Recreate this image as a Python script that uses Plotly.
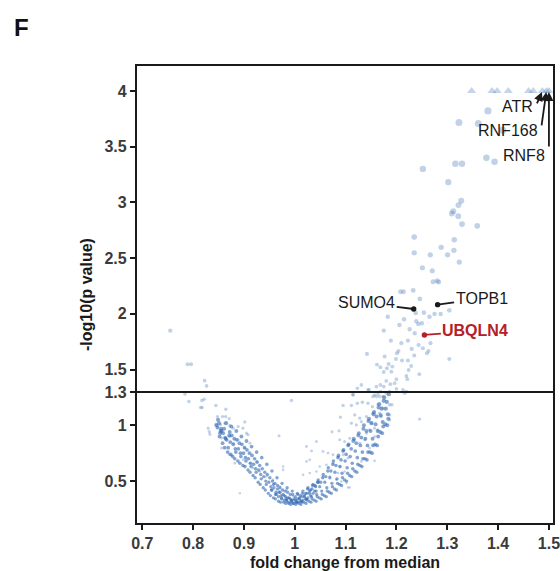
import plotly.graph_objects as go

# sparse / well separated proteins (fold change, -log10 p)
fc_pts = [1.380, 1.323, 1.361, 1.409, 1.377, 1.393, 1.316, 1.329, 1.252, 1.302,
          1.3275, 1.322, 1.312, 1.309, 1.3216, 1.329, 1.359, 1.235, 1.3137, 1.288,
          1.313, 1.235, 1.2666, 1.3006, 1.3236, 1.251, 1.2705, 1.272, 1.280, 1.283,
          1.208, 1.214, 1.233, 1.246, 1.238, 1.254, 1.265, 1.275, 1.287, 1.304,
          1.183, 1.215, 1.239, 1.250, 1.243, 1.206, 1.226, 1.175, 1.236, 1.189,
          1.2226, 1.2097, 1.2436, 1.267, 1.230, 1.252, 1.204, 1.201, 1.260, 1.263,
          1.142, 1.1768, 1.235, 1.199, 1.211, 1.2226, 1.304, 1.1617, 1.1684, 1.1847,
          1.192, 1.1813, 1.229, 1.224, 1.175, 1.19, 1.2195, 1.245, 1.2214, 1.200,
          1.180, 1.188, 1.175, 1.1684, 1.1605, 1.131, 1.1232, 1.1145, 1.144, 1.1965,
          1.2128, 1.2195, 1.200, 1.169, 1.1637, 1.1735, 1.1538, 1.146, 1.157,
          0.755, 0.789, 0.796, 0.8226, 0.8265, 0.7839, 0.7917, 0.8173, 0.8218, 0.8147,
          0.8179, 0.8448, 0.8644, 0.9935, 0.848, 0.858, 0.864, 0.871, 0.9018, 0.8297,
          0.8316, 0.833, 0.845, 0.854, 0.8625, 0.872, 0.879, 0.8886, 0.898, 0.905,
          0.908, 0.969, 0.856, 0.872, 0.879, 0.8886, 0.902, 0.9116, 0.856, 0.892,
          1.023, 1.023, 0.977, 0.977,
          1.1145, 1.1605, 1.167, 1.180, 1.1866, 1.216, 1.095, 1.1114, 1.123, 1.133,
          1.144, 1.1527, 1.1637, 1.1735, 1.1866, 1.191, 1.0898, 1.118, 1.1277, 1.141,
          1.1538, 1.167, 1.170, 1.1866, 1.1866, 1.2456, 1.1114, 1.1212, 1.131, 1.1507,
          1.157, 1.1637, 1.141, 1.147, 1.0733, 1.087, 1.0426, 1.0884, 1.098, 1.108,
          1.118, 1.1277, 1.1375, 1.147, 1.157, 1.033, 1.0295, 1.0556, 1.0655, 1.0753,
          1.085, 1.095, 1.1047, 1.131, 1.157, 1.049, 1.0623, 1.0753, 1.0884, 1.098,
          1.085, 1.0163, 1.0295, 1.0426, 1.0556, 1.0688, 1.082, 1.0917, 1.1016, 1.1047,
          1.108, 0.871, 0.8756, 0.882, 0.8985, 0.9116, 0.918, 0.9248, 0.931, 0.9444,
          0.9574, 0.970, 0.9837, 0.9967, 1.0098, 1.023]
p_pts = [3.821, 3.717, 3.708, 3.648, 3.400, 3.364, 3.346, 3.346, 3.301, 3.182,
         3.014, 2.976, 2.922, 2.901, 2.877, 2.806, 2.790, 2.689, 2.665, 2.597,
         2.570, 2.548, 2.530, 2.530, 2.465, 2.414, 2.387, 2.289, 2.298, 2.286,
         2.199, 2.199, 2.211, 2.134, 2.008, 2.011, 1.975, 1.999, 1.999, 2.032,
         1.975, 1.952, 1.933, 1.916, 1.909, 1.900, 1.862, 1.850, 1.826, 1.760,
         1.760, 1.737, 1.721, 1.737, 1.686, 1.692, 1.667, 1.647, 1.647, 1.667,
         1.641, 1.617, 1.626, 1.596, 1.581, 1.581, 1.596, 1.545, 1.522, 1.551,
         1.527, 1.513, 1.533, 1.497, 1.479, 1.482, 1.443, 1.459, 1.414, 1.414,
         1.399, 1.369, 1.348, 1.363, 1.348, 1.363, 1.333, 1.276, 1.318, 1.378,
         1.318, 1.303, 1.327, 1.303, 1.282, 1.258, 1.258, 1.318, 1.273,
         1.850, 1.548, 1.548, 1.401, 1.354, 1.282, 1.213, 1.222, 1.235, 1.160,
         1.160, 1.178, 1.145, 1.222, 1.079, 1.079, 1.079, 1.061, 1.031, 0.975,
         0.944, 0.921, 1.011, 1.007, 1.020, 0.998, 0.975, 0.989, 0.975, 0.930,
         0.915, 0.906, 0.886, 0.900, 0.840, 0.870, 0.796, 0.840, 0.796, 0.392,
         0.810, 0.676, 0.631, 0.601,
         1.273, 1.258, 1.258, 1.289, 1.303, 1.289, 1.178, 1.178, 1.199, 1.208,
         1.199, 1.168, 1.184, 1.154, 1.184, 1.184, 1.073, 1.094, 1.064, 1.079,
         1.109, 1.109, 1.079, 1.094, 1.049, 1.056, 1.020, 1.004, 1.034, 1.020,
         0.975, 0.960, 0.930, 0.960, 0.942, 0.951, 0.855, 0.870, 0.855, 0.885,
         0.870, 0.840, 0.870, 0.796, 0.900, 0.771, 0.691, 0.765, 0.751, 0.736,
         0.720, 0.736, 0.706, 0.676, 0.682, 0.631, 0.646, 0.661, 0.631, 0.586,
         0.572, 0.557, 0.572, 0.586, 0.541, 0.541, 0.512, 0.497, 0.482, 0.443,
         0.443, 0.736, 0.730, 0.661, 0.691, 0.661, 0.617, 0.676, 0.586, 0.541,
         0.512, 0.452, 0.422, 0.362, 0.333, 0.333]

# dense V-shaped band of non-changing proteins (estimated from the cloud)
fc_band = [0.848, 0.851, 0.853, 0.855, 0.849, 0.852, 0.846, 0.854,
           0.858, 0.861, 0.863, 0.865, 0.859, 0.862, 0.856, 0.864,
           0.868, 0.871, 0.873, 0.875, 0.869, 0.872, 0.866, 0.874,
           0.878, 0.881, 0.883, 0.885, 0.879, 0.882, 0.876, 0.884,
           0.888, 0.891, 0.893, 0.895, 0.889, 0.892, 0.886, 0.894,
           0.898, 0.901, 0.903, 0.905, 0.899, 0.902, 0.896, 0.904,
           0.908, 0.911, 0.913, 0.915, 0.909, 0.912, 0.906, 0.914,
           0.918, 0.921, 0.923, 0.925, 0.919, 0.922, 0.916, 0.924,
           0.928, 0.931, 0.933, 0.935, 0.929, 0.932, 0.926, 0.934,
           0.938, 0.941, 0.943, 0.945, 0.939, 0.942, 0.936, 0.944,
           0.948, 0.951, 0.953, 0.955, 0.949, 0.952, 0.946, 0.954,
           0.958, 0.961, 0.963, 0.965, 0.959, 0.962, 0.956, 0.964,
           0.968, 0.971, 0.973, 0.975, 0.969, 0.972, 0.966, 0.974,
           0.978, 0.981, 0.983, 0.985, 0.979, 0.982, 0.976, 0.984,
           0.988, 0.991, 0.993, 0.995, 0.989, 0.992, 0.986, 0.994,
           0.998, 1.001, 1.003, 1.005, 0.999, 1.002, 0.996, 1.004,
           1.008, 1.011, 1.013, 1.015, 1.009, 1.012, 1.006, 1.014,
           1.018, 1.021, 1.023, 1.025, 1.019, 1.022, 1.016, 1.024,
           1.028, 1.031, 1.033, 1.035, 1.029, 1.032, 1.026, 1.034,
           1.038, 1.041, 1.043, 1.045, 1.039, 1.042, 1.036, 1.044,
           1.048, 1.051, 1.053, 1.055, 1.049, 1.052, 1.046, 1.054,
           1.058, 1.061, 1.063, 1.065, 1.059, 1.062, 1.056, 1.064,
           1.068, 1.071, 1.073, 1.075, 1.069, 1.072, 1.066, 1.074,
           1.078, 1.081, 1.083, 1.085, 1.079, 1.082, 1.076, 1.084,
           1.088, 1.091, 1.093, 1.095, 1.089, 1.092, 1.086, 1.094,
           1.098, 1.101, 1.103, 1.105, 1.099, 1.102, 1.096, 1.104,
           1.108, 1.111, 1.113, 1.115, 1.109, 1.112, 1.106, 1.114,
           1.118, 1.121, 1.123, 1.125, 1.119, 1.122, 1.116, 1.124,
           1.128, 1.131, 1.133, 1.135, 1.129, 1.132, 1.126, 1.134,
           1.138, 1.141, 1.143, 1.145, 1.139, 1.142, 1.136, 1.144,
           1.148, 1.151, 1.153, 1.155, 1.149, 1.152, 1.146, 1.154,
           1.158, 1.161, 1.163, 1.165, 1.159, 1.162, 1.156, 1.164,
           1.168, 1.171, 1.173, 1.175, 1.169, 1.172, 1.166, 1.174,
           1.178, 1.181, 1.183, 1.185, 1.179, 1.182, 1.176, 1.184]
p_band = [0.98, 1.02, 0.93, 0.97, 1.05, 0.90, 1.00, 0.95,
          0.84, 0.97, 0.89, 1.02, 0.93, 0.80, 0.95, 0.88,
          0.76, 0.91, 0.85, 0.99, 0.80, 0.94, 0.87, 0.74,
          0.72, 0.88, 0.79, 0.95, 0.83, 0.70, 0.91, 0.76,
          0.68, 0.84, 0.75, 0.90, 0.79, 0.66, 0.87, 0.72,
          0.64, 0.80, 0.71, 0.86, 0.75, 0.63, 0.83, 0.68,
          0.60, 0.75, 0.66, 0.81, 0.70, 0.58, 0.78, 0.63,
          0.55, 0.70, 0.61, 0.76, 0.65, 0.53, 0.73, 0.58,
          0.49, 0.64, 0.56, 0.71, 0.60, 0.47, 0.67, 0.52,
          0.44, 0.58, 0.50, 0.65, 0.54, 0.42, 0.61, 0.47,
          0.39, 0.53, 0.45, 0.59, 0.49, 0.37, 0.56, 0.42,
          0.35, 0.48, 0.40, 0.53, 0.44, 0.34, 0.50, 0.38,
          0.32, 0.44, 0.37, 0.48, 0.40, 0.31, 0.46, 0.35,
          0.31, 0.41, 0.34, 0.44, 0.37, 0.30, 0.42, 0.33,
          0.30, 0.38, 0.33, 0.41, 0.35, 0.29, 0.40, 0.32,
          0.30, 0.36, 0.32, 0.39, 0.34, 0.29, 0.38, 0.31,
          0.30, 0.37, 0.32, 0.39, 0.34, 0.29, 0.38, 0.31,
          0.31, 0.39, 0.34, 0.43, 0.36, 0.30, 0.41, 0.33,
          0.32, 0.42, 0.36, 0.46, 0.39, 0.31, 0.44, 0.34,
          0.33, 0.45, 0.38, 0.49, 0.41, 0.32, 0.47, 0.36,
          0.35, 0.49, 0.41, 0.53, 0.45, 0.34, 0.51, 0.38,
          0.37, 0.54, 0.44, 0.59, 0.49, 0.36, 0.56, 0.41,
          0.40, 0.59, 0.48, 0.65, 0.53, 0.39, 0.62, 0.45,
          0.43, 0.64, 0.52, 0.71, 0.58, 0.42, 0.68, 0.48,
          0.47, 0.69, 0.57, 0.77, 0.63, 0.46, 0.73, 0.53,
          0.51, 0.74, 0.62, 0.82, 0.68, 0.50, 0.78, 0.57,
          0.55, 0.79, 0.66, 0.86, 0.72, 0.54, 0.83, 0.61,
          0.59, 0.84, 0.71, 0.91, 0.77, 0.58, 0.88, 0.65,
          0.64, 0.89, 0.76, 0.97, 0.82, 0.63, 0.93, 0.70,
          0.70, 0.95, 0.82, 1.04, 0.88, 0.69, 1.00, 0.76,
          0.76, 1.02, 0.88, 1.10, 0.95, 0.75, 1.06, 0.82,
          0.83, 1.08, 0.95, 1.16, 1.01, 0.82, 1.12, 0.90,
          0.94, 1.15, 1.03, 1.22, 1.09, 0.93, 1.19, 0.99,
          1.01, 1.21, 1.10, 1.28, 1.15, 1.00, 1.25, 1.06]

# extra density at the bottom of the V
fc_core = [0.955, 0.962, 0.968, 0.974, 0.979, 0.984, 0.988, 0.993, 0.997, 1.003,
           1.007, 1.012, 1.016, 1.021, 1.026, 1.031, 1.036, 1.042, 0.958, 0.966,
           0.971, 0.977, 0.982, 0.986, 0.991, 0.995, 1.001, 1.005, 1.009, 1.014,
           1.019, 1.024, 1.029, 1.034, 1.040, 1.046]
p_core = [0.42, 0.38, 0.36, 0.34, 0.33, 0.32, 0.31, 0.31, 0.30, 0.31,
          0.31, 0.32, 0.33, 0.34, 0.35, 0.37, 0.39, 0.41, 0.47, 0.43,
          0.40, 0.38, 0.36, 0.35, 0.34, 0.33, 0.33, 0.34, 0.35, 0.36,
          0.37, 0.39, 0.41, 0.43, 0.46, 0.49]

# proteins with p below detection limit, plotted as triangles at the cap
fc_cap = [1.348, 1.388, 1.398, 1.420, 1.460, 1.469, 1.487, 1.495, 1.500]
p_cap = [4, 4, 4, 4, 4, 4, 4, 4, 4]

# labelled hits
top_genes = ['ATR', 'RNF168', 'RNF8']
top_fc = [1.487, 1.495, 1.500]
top_p = [4, 4, 4]
mid_genes = ['SUMO4', 'TOPB1', 'UBQLN4']
mid_fc = [1.234, 1.281, 1.255]
mid_p = [2.044, 2.083, 1.811]

threshold = 1.3  # -log10(0.05)

y_tickvals = [0.5, 1, 1.3, 1.5, 2, 2.5, 3, 3.5, 4]
y_ticktext = ['0.5', '1', '1.3', '1.5', '2', '2.5', '3', '3.5', '4']
x_tickvals = [0.7, 0.8, 0.9, 1.0, 1.1, 1.2, 1.3, 1.4, 1.5]
x_ticktext = ['0.7', '0.8', '0.9', '1', '1.1', '1.2', '1.3', '1.4', '1.5']

BLUE = 'rgb(50,105,180)'
FONT = 'Liberation Sans, Arial, sans-serif'

dense_fc = fc_band + fc_core
dense_p = p_band + p_core

fig = go.Figure()
# dense cloud: small, more opaque so overlaps go dark
fig.add_trace(go.Scatter(
    x=dense_fc, y=dense_p, mode='markers',
    marker=dict(color=BLUE, opacity=0.6, size=[2.8 + 1.2 * v for v in dense_p], line=dict(width=0)),
    showlegend=False))
# individual proteins, size grows with significance
fig.add_trace(go.Scatter(
    x=fc_pts, y=p_pts, mode='markers',
    marker=dict(color=BLUE, opacity=0.3, size=[1.8 + 1.4 * v for v in p_pts], line=dict(width=0)),
    showlegend=False))
fig.add_trace(go.Scatter(
    x=fc_cap, y=p_cap, mode='markers',
    marker=dict(symbol='triangle-up', color=BLUE, opacity=0.28, size=8, line=dict(width=0)),
    showlegend=False))

fig.add_hline(y=threshold, line=dict(color='#1a1a1a', width=2))

# arrows + labels for the capped hits
arrow_off = [(-6, 14), (-5, 36), (0, 57)]
text_off = [(-7, -16), (-6, -40), (-2, -65)]
for g, x, y, (ax, ay), (dx, dy) in zip(top_genes, top_fc, top_p, arrow_off, text_off):
    fig.add_annotation(x=x, y=y, text='', showarrow=True, ax=ax, ay=ay,
                       arrowhead=2, arrowsize=1, arrowwidth=1.8, arrowcolor='#1a1a1a', standoff=1)
    fig.add_annotation(x=x, y=y, text=g, showarrow=False, xanchor='right',
                       xshift=dx, yshift=dy, font=dict(family=FONT, size=16, color='#1a1a1a'))

# dot-ended connectors for the mid hits
mid_off = [(-47, -6), (44, -6), (51, -4)]
mid_col = ['#1a1a1a', '#1a1a1a', '#b3202a']
mid_weight = ['normal', 'normal', 'bold']
for g, x, y, (ax, ay), c, w in zip(mid_genes, mid_fc, mid_p, mid_off, mid_col, mid_weight):
    fig.add_annotation(x=x, y=y, text=g, showarrow=True, ax=ax, ay=ay,
                       arrowhead=6, arrowsize=0.75, arrowwidth=1.8, arrowcolor=c,
                       font=dict(family=FONT, size=16, color=c, weight=w))

# panel letter
fig.add_annotation(xref='paper', yref='paper', x=-0.30, y=1.085,
                   xanchor='left', yanchor='middle', text='F', showarrow=False,
                   font=dict(family=FONT, size=24, color='#111', weight='bold'))

axis_common = dict(showline=True, linecolor='#1a1a1a', linewidth=2.2, mirror=True,
                   ticks='outside', ticklen=5, tickwidth=1.8, tickcolor='#1a1a1a',
                   showgrid=False, zeroline=False, ticklabeloverflow='allow',
                   tickfont=dict(family=FONT, size=16, color='#3a3a3a', weight='bold'))

fig.update_xaxes(range=[0.6896, 1.508], tickvals=x_tickvals, ticktext=x_ticktext,
                 title=dict(text='fold change from median', standoff=6,
                            font=dict(family=FONT, size=16, color='#1a1a1a', weight='bold')),
                 **axis_common)
fig.update_yaxes(range=[0.124, 4.224], tickvals=y_tickvals, ticktext=y_ticktext,
                 title=dict(text='-log10(p value)', standoff=8,
                            font=dict(family=FONT, size=16, color='#1a1a1a', weight='bold')),
                 **axis_common)

fig.update_layout(
    width=560, height=571,
    margin=dict(l=137, r=7, t=66, b=48, autoexpand=False),
    plot_bgcolor='white', paper_bgcolor='white',
)

# drop the default body margin so the 560x571 figure fills the window exactly
fig.write_html('out.html', config={'displayModeBar': False},
               post_script="document.body.style.margin='0';document.body.style.overflow='hidden';")
